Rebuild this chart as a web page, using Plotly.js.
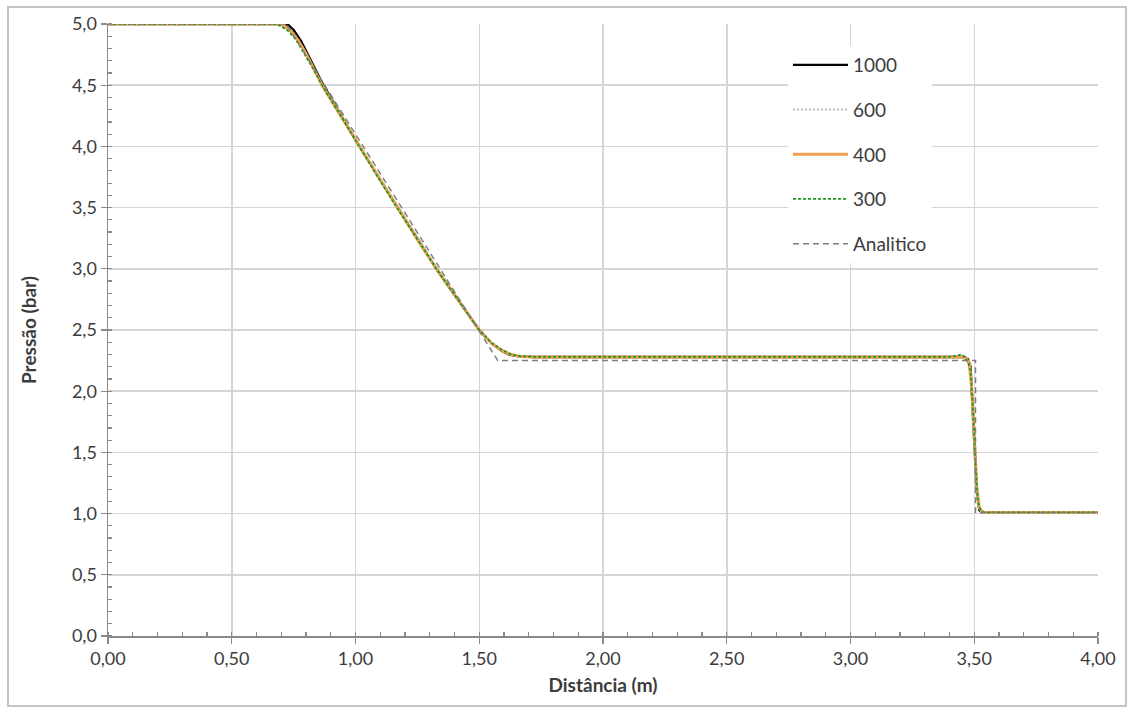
<!DOCTYPE html>
<html>
<head>
<meta charset="utf-8">
<script src="https://cdn.plot.ly/plotly-3.0.1.min.js"></script>
<style>
  html, body { margin: 0; padding: 0; background: #ffffff; }
  #chart { width: 1130px; height: 711px; }
</style>
</head>
<body>
<div id="chart"></div>
<script>
// Pressure profiles along the tube (bar) vs distance (m) for several mesh sizes
const x1000 = [0, 0.71, 0.73, 0.75, 0.78, 0.81, 0.84, 0.865, 0.94, 1.01, 1.09, 1.167, 1.25, 1.33, 1.42, 1.50, 1.55, 1.59, 1.62, 1.66, 1.72, 2.50, 3.40, 3.44, 3.46, 3.475, 3.485, 3.49, 3.50, 3.51, 3.52, 3.53, 4.00];
const p1000 = [5.00, 5.00, 4.99, 4.95, 4.86, 4.74, 4.62, 4.52, 4.26, 4.02, 3.76, 3.51, 3.24, 2.99, 2.73, 2.50, 2.39, 2.33, 2.30, 2.285, 2.28, 2.28, 2.28, 2.285, 2.28, 2.26, 2.20, 2.00, 1.60, 1.20, 1.03, 1.01, 1.01];

const x600 = [0, 0.70, 0.72, 0.74, 0.77, 0.80, 0.83, 0.865, 0.94, 1.01, 1.09, 1.167, 1.25, 1.33, 1.42, 1.50, 1.55, 1.59, 1.62, 1.66, 1.72, 2.50, 3.40, 3.44, 3.46, 3.475, 3.485, 3.49, 3.50, 3.51, 3.52, 3.53, 4.00];
const p600 = [5.00, 5.00, 4.985, 4.95, 4.87, 4.76, 4.64, 4.51, 4.26, 4.02, 3.76, 3.51, 3.24, 2.99, 2.73, 2.50, 2.39, 2.33, 2.30, 2.285, 2.28, 2.28, 2.28, 2.29, 2.285, 2.27, 2.22, 2.05, 1.62, 1.18, 1.03, 1.01, 1.01];

const x400 = [0, 0.69, 0.71, 0.74, 0.77, 0.80, 0.83, 0.865, 0.94, 1.01, 1.09, 1.167, 1.25, 1.33, 1.42, 1.50, 1.55, 1.59, 1.62, 1.66, 1.72, 2.50, 3.40, 3.43, 3.455, 3.47, 3.48, 3.49, 3.50, 3.51, 3.52, 3.535, 4.00];
const p400 = [5.00, 5.00, 4.985, 4.94, 4.86, 4.76, 4.64, 4.50, 4.25, 4.02, 3.76, 3.51, 3.24, 2.99, 2.73, 2.50, 2.39, 2.335, 2.305, 2.285, 2.28, 2.28, 2.28, 2.285, 2.28, 2.26, 2.22, 2.02, 1.62, 1.22, 1.05, 1.01, 1.01];

const x300 = [0, 0.68, 0.70, 0.73, 0.76, 0.79, 0.83, 0.865, 0.94, 1.01, 1.09, 1.167, 1.25, 1.33, 1.42, 1.50, 1.55, 1.59, 1.63, 1.67, 1.73, 2.50, 3.40, 3.43, 3.45, 3.465, 3.475, 3.485, 3.495, 3.505, 3.515, 3.525, 3.54, 4.00];
const p300 = [5.00, 5.00, 4.98, 4.94, 4.87, 4.77, 4.63, 4.50, 4.25, 4.01, 3.75, 3.50, 3.24, 2.99, 2.73, 2.50, 2.395, 2.34, 2.30, 2.285, 2.28, 2.28, 2.28, 2.29, 2.30, 2.27, 2.24, 2.17, 1.85, 1.40, 1.10, 1.03, 1.01, 1.01];

const xAnalitico = [0, 0.72, 1.00, 1.25, 1.575, 3.505, 3.505, 4.00];
const pAnalitico = [5.00, 5.00, 4.10, 3.295, 2.25, 2.25, 1.01, 1.01];

const seriesNames = ['1000', '600', '400', '300', 'Analitico'];

// plot-area geometry in pixels, used to place the legend and the outer frame
const W = 1130, H = 711;
const M = { l: 108, r: 32, t: 24, b: 75 };
const pw = W - M.l - M.r, ph = H - M.t - M.b;
const px2x = p => (p - M.l) / pw;
const py2y = p => (H - M.b - p) / ph;

const FONT = 'Lato, "Open Sans", sans-serif';
const SAMPLE = 55; // legend line sample length

const traces = [
  { x: x1000, y: p1000, name: seriesNames[0], line: { color: '#000000', width: 2.4 } },
  { x: x600, y: p600, name: seriesNames[1], line: { color: '#bdbdbd', width: 2, dash: '2px,2px' } },
  { x: x400, y: p400, name: seriesNames[2], line: { color: '#f0a050', width: 3 } },
  { x: x300, y: p300, name: seriesNames[3], line: { color: '#1f9a1f', width: 1.8, dash: '3px,2px' } },
  { x: xAnalitico, y: pAnalitico, name: seriesNames[4], line: { color: '#7f7f7f', width: 1.5, dash: '6px,4px' } }
].map((t, i) => Object.assign({ type: 'scatter', mode: 'lines', legendgroup: 'g' + i, hoverinfo: 'x+y' }, t));

const axisCommon = {
  showline: true,
  linecolor: '#8a8a8a',
  linewidth: 1.5,
  showgrid: true,
  gridcolor: '#d6d6d6',
  gridwidth: 1.5,
  zeroline: false,
  ticks: 'outside',
  ticklen: 6,
  tickwidth: 1.2,
  tickcolor: '#8a8a8a',
  tickfont: { family: FONT, size: 18, color: '#3c3c3c' },
  mirror: false,
  fixedrange: true
};

const titleFont = { family: FONT, size: 19, color: '#3c3c3c', weight: 'bold' };

const layout = {
  width: W,
  height: H,
  margin: M,
  paper_bgcolor: '#ffffff',
  plot_bgcolor: '#ffffff',
  separators: ', ',
  showlegend: true,
  font: { family: FONT, color: '#3c3c3c' },
  xaxis: Object.assign({}, axisCommon, {
    range: [0, 4],
    tick0: 0,
    dtick: 0.5,
    tickformat: '.2f',
    minor: { dtick: 0.1, ticks: 'inside', ticklen: 4, tickcolor: '#8a8a8a', showgrid: false },
    title: { text: 'Distância (m)', font: titleFont, standoff: 10 }
  }),
  yaxis: Object.assign({}, axisCommon, {
    range: [0, 5],
    tick0: 0,
    dtick: 0.5,
    tickformat: '.1f',
    minor: { dtick: 0.1, ticks: 'inside', ticklen: 4, tickcolor: '#8a8a8a', showgrid: false },
    title: { text: 'Pressão (bar)', font: titleFont, standoff: 30 }
  }),
  legend: {
    x: px2x(788),
    y: py2y(46),
    xanchor: 'left',
    yanchor: 'top',
    bgcolor: 'rgba(255,255,255,1)',
    borderwidth: 0,
    font: { family: FONT, size: 19, color: '#3c3c3c' },
    tracegroupgap: 17,
    traceorder: 'grouped',
    itemwidth: SAMPLE
  },
  shapes: [{
    type: 'rect', xref: 'paper', yref: 'paper',
    x0: px2x(8), x1: px2x(1126), y0: py2y(706), y1: py2y(7),
    line: { color: '#c4c4c4', width: 2 }, fillcolor: 'rgba(0,0,0,0)', layer: 'below'
  }]
};

Plotly.newPlot('chart', traces, layout, { displayModeBar: false, staticPlot: true }).then(gd => {
  // stretch the legend line samples across the item width
  gd.querySelectorAll('.legend .legendlines path').forEach(p => {
    p.setAttribute('d', 'M5,0h' + SAMPLE);
  });
});
</script>
</body>
</html>
